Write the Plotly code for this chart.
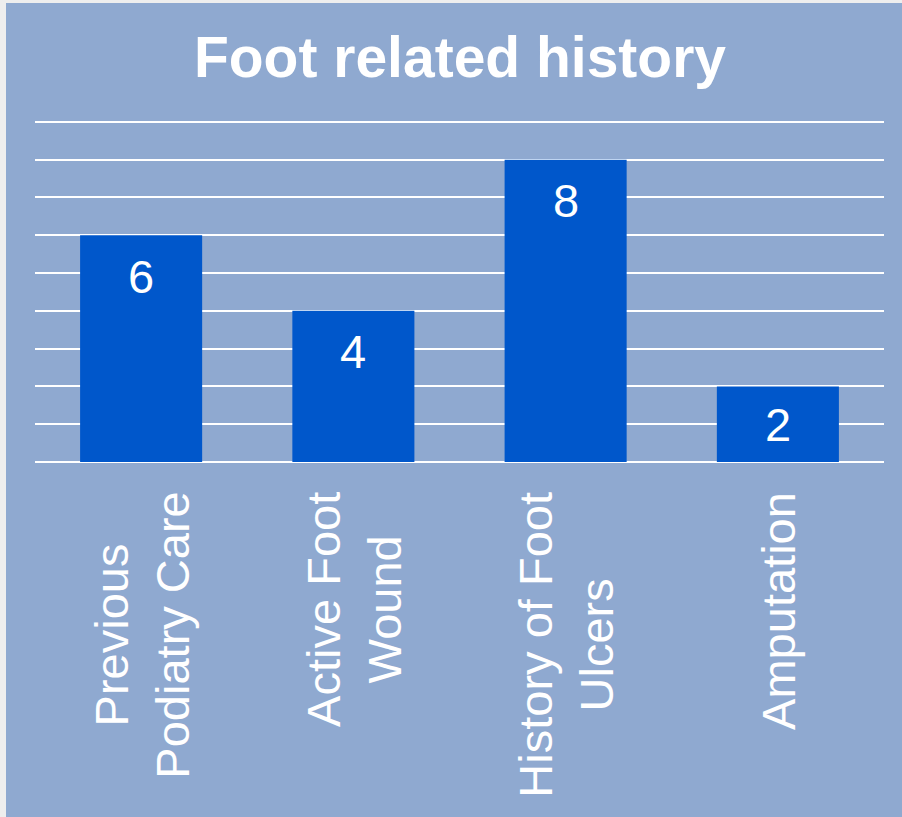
import plotly.graph_objects as go

categories = ["Previous<br>Podiatry Care", "Active Foot<br>Wound", "History of Foot<br>Ulcers", "Amputation"]
values = [6, 4, 8, 2]
title_text = "Foot related history"

W, H = 902, 817
L, R, T, B = 35, 18, 120, 355
YMAX = 9.05
ph = H - T - B
pw = W - L - R
unit_px = ph / YMAX

def px_to_paper_y(py):
    return (H - B - py) / ph

def px_to_paper_x(pxv):
    return (pxv - L) / pw

fig = go.Figure()
fig.add_trace(go.Bar(
    x=categories, y=values,
    marker=dict(color="#0057CB", line=dict(width=0)),
    width=0.575,
    hoverinfo="skip",
))

# value labels inside bars
for c, v in zip(categories, values):
    fig.add_annotation(x=c, y=v, xref="x", yref="y", text=str(v),
                       showarrow=False, yanchor="middle", yshift=-min(41, v * unit_px / 2),
                       font=dict(family="Liberation Sans, Arial", size=47, color="white"))

# category labels (rotated)
for c in categories:
    fig.add_annotation(x=c, y=px_to_paper_y(490), xref="x", yref="paper", text=c,
                       showarrow=False, textangle=-90, yanchor="top", xanchor="center",
                       align="center",
                       font=dict(family="Liberation Sans, Arial", size=47, color="white"))

# panel background
fig.add_shape(type="rect", xref="paper", yref="paper",
              x0=px_to_paper_x(6), x1=px_to_paper_x(W + 5),
              y0=px_to_paper_y(H + 5), y1=px_to_paper_y(3),
              fillcolor="#8FA9D0", line=dict(width=0), layer="below")

fig.update_layout(
    width=W, height=H,
    margin=dict(l=L, r=R, t=T, b=B),
    paper_bgcolor="#EEEEEE",
    plot_bgcolor="rgba(0,0,0,0)",
    showlegend=False,
    title=dict(text="<b>" + title_text + "</b>", x=460 / W, xanchor="center",
               y=1 - 57 / H, yanchor="middle", yref="container",
               font=dict(family="Liberation Sans, Arial", size=57, color="white")),
    xaxis=dict(showticklabels=False, showgrid=False, zeroline=False, showline=False, ticks=""),
    yaxis=dict(range=[0, YMAX], tick0=0, dtick=1, showticklabels=False, showgrid=True,
               gridcolor="white", gridwidth=2, zeroline=True, zerolinecolor="white",
               zerolinewidth=2, showline=False, ticks=""),
)

fig.write_html("out.html")
